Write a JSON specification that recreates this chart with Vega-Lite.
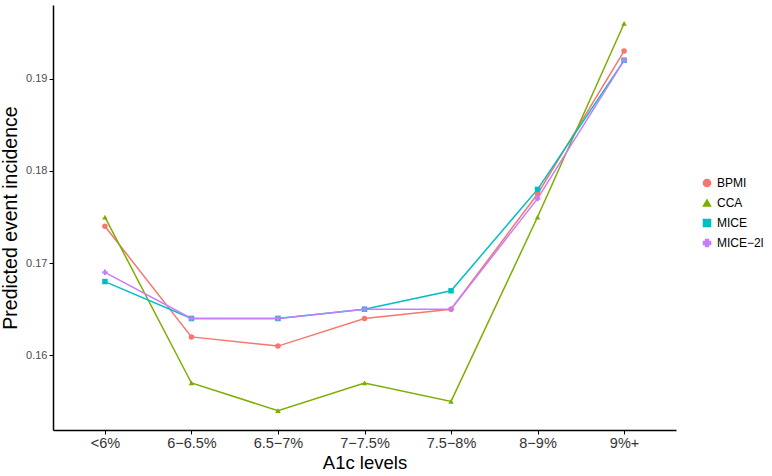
{
  "$schema": "https://vega.github.io/schema/vega-lite/v6.json",
  "autosize": "none",
  "width": 623,
  "height": 425,
  "padding": {"left": 53, "top": 5, "right": 96, "bottom": 46},
  "background": "white",
  "config": {
    "font": "Liberation Sans",
    "view": {"stroke": null}
  },
  "data": {
    "values": [
      {"level": "<6%", "method": "BPMI", "value": 0.174},
      {"level": "6−6.5%", "method": "BPMI", "value": 0.162},
      {"level": "6.5−7%", "method": "BPMI", "value": 0.161},
      {"level": "7−7.5%", "method": "BPMI", "value": 0.164},
      {"level": "7.5−8%", "method": "BPMI", "value": 0.165},
      {"level": "8−9%", "method": "BPMI", "value": 0.1775},
      {"level": "9%+", "method": "BPMI", "value": 0.193},
      {"level": "<6%", "method": "CCA", "value": 0.175},
      {"level": "6−6.5%", "method": "CCA", "value": 0.157},
      {"level": "6.5−7%", "method": "CCA", "value": 0.154},
      {"level": "7−7.5%", "method": "CCA", "value": 0.157},
      {"level": "7.5−8%", "method": "CCA", "value": 0.155},
      {"level": "8−9%", "method": "CCA", "value": 0.175},
      {"level": "9%+", "method": "CCA", "value": 0.196},
      {"level": "<6%", "method": "MICE", "value": 0.168},
      {"level": "6−6.5%", "method": "MICE", "value": 0.164},
      {"level": "6.5−7%", "method": "MICE", "value": 0.164},
      {"level": "7−7.5%", "method": "MICE", "value": 0.165},
      {"level": "7.5−8%", "method": "MICE", "value": 0.167},
      {"level": "8−9%", "method": "MICE", "value": 0.178},
      {"level": "9%+", "method": "MICE", "value": 0.192},
      {"level": "<6%", "method": "MICE−2l", "value": 0.169},
      {"level": "6−6.5%", "method": "MICE−2l", "value": 0.164},
      {"level": "6.5−7%", "method": "MICE−2l", "value": 0.164},
      {"level": "7−7.5%", "method": "MICE−2l", "value": 0.165},
      {"level": "7.5−8%", "method": "MICE−2l", "value": 0.165},
      {"level": "8−9%", "method": "MICE−2l", "value": 0.177},
      {"level": "9%+", "method": "MICE−2l", "value": 0.192}
    ]
  },
  "encoding": {
    "x": {
      "field": "level",
      "type": "ordinal",
      "sort": ["<6%", "6−6.5%", "6.5−7%", "7−7.5%", "7.5−8%", "8−9%", "9%+"],
      "scale": {"type": "point", "padding": 0.6},
      "axis": {
        "title": "A1c levels",
        "titleFontSize": 18.5,
        "titleFontWeight": "normal",
        "titleColor": "black",
        "titlePadding": 4,
        "labelAngle": 0,
        "labelFontSize": 14.5,
        "labelColor": "#333333",
        "labelPadding": 2,
        "domainColor": "black",
        "domainWidth": 1.5,
        "tickColor": "black",
        "tickSize": 4,
        "grid": false
      }
    },
    "y": {
      "field": "value",
      "type": "quantitative",
      "scale": {"domain": [0.1519, 0.198], "nice": false, "zero": false},
      "axis": {
        "title": "Predicted event incidence",
        "titleFontSize": 19.5,
        "titleFontWeight": "normal",
        "titleColor": "black",
        "titlePadding": 5,
        "values": [0.16, 0.17, 0.18, 0.19],
        "format": ".2f",
        "labelFontSize": 11,
        "labelColor": "#4D4D4D",
        "labelPadding": 2,
        "domainColor": "black",
        "domainWidth": 1.5,
        "tickColor": "black",
        "tickSize": 4,
        "grid": false
      }
    },
    "color": {
      "field": "method",
      "type": "nominal",
      "scale": {
        "domain": ["BPMI", "CCA", "MICE", "MICE−2l"],
        "range": ["#F8766D", "#7CAE00", "#00BFC4", "#C77CFF"]
      },
      "legend": {
        "title": null,
        "orient": "none",
        "legendX": 648,
        "legendY": 172,
        "labelFontSize": 12,
        "labelColor": "black",
        "symbolSize": 50,
        "rowPadding": 6,
        "symbolStrokeWidth": 1.5
      }
    }
  },
  "layer": [
    {
      "mark": {"type": "line", "strokeWidth": 1.5}
    },
    {
      "mark": {"type": "point", "filled": true, "size": 30, "opacity": 1},
      "encoding": {
        "shape": {
          "field": "method",
          "type": "nominal",
          "scale": {
            "domain": ["BPMI", "CCA", "MICE", "MICE−2l"],
            "range": ["circle", "triangle-up", "square", "cross"]
          },
          "legend": null
        }
      }
    }
  ]
}
